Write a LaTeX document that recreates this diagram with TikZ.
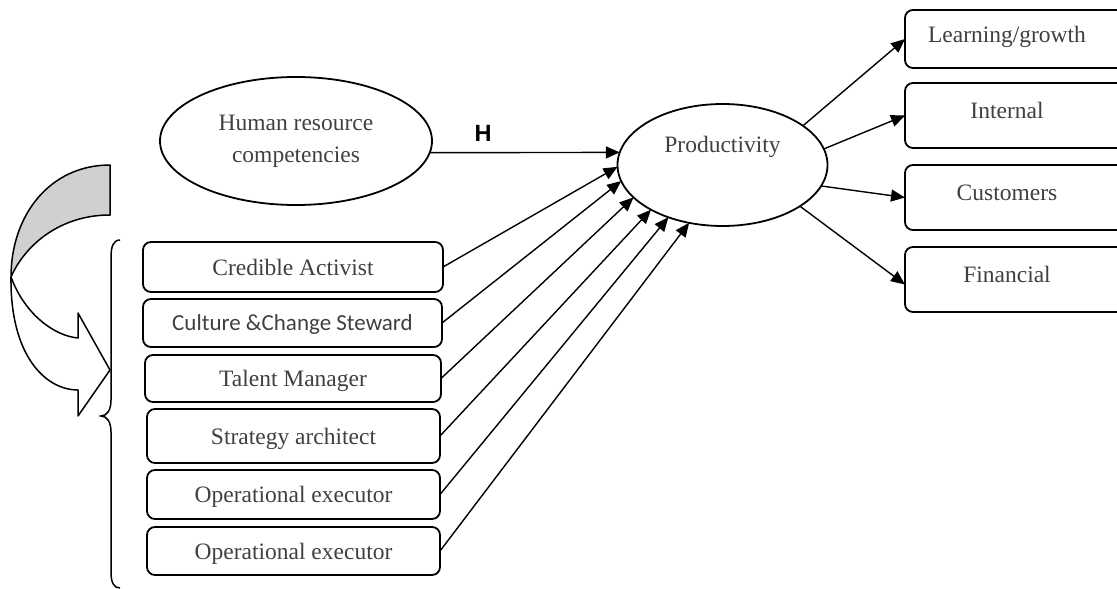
\documentclass[tikz,border=0pt]{standalone}
\usepackage{fontspec}
\setmainfont{Liberation Serif}
\newfontfamily\calfont{Carlito}
\newfontfamily\arifont{Liberation Sans}
\usetikzlibrary{shapes.geometric,arrows.meta}
\definecolor{txt}{RGB}{64,64,64}
\definecolor{bandgray}{RGB}{208,208,208}
\begin{document}
\begin{tikzpicture}[x=1pt,y=-1pt,
  lbox/.style={draw, line width=1.8pt, rounded corners=8pt, inner sep=0pt, outer sep=0pt,
    font=\fontsize{23.5}{28}\selectfont, text=txt, text height=16pt, text depth=0pt},
  rbox/.style={draw, line width=1.8pt, rounded corners=8pt, minimum width=220pt, inner sep=0pt, outer sep=0pt},
  rtxt/.style={font=\fontsize{23.5}{28}\selectfont, text=txt, text height=16pt, text depth=0pt,
    inner sep=0pt, xshift=-8pt, yshift=5pt},
  oval/.style={draw, ellipse, line width=1.8pt, inner sep=0pt, outer sep=0pt},
  arr/.style={line width=1.4pt, -{Triangle[length=14pt,width=12pt]}},
  band/.style={line width=1.5pt, line join=round},
]
\useasboundingbox (0,0) rectangle (1117,589);
\clip (0,0) rectangle (1117,589);

% curved arrow
\draw[band, fill=bandgray] (110,165) .. controls (50,165) and (11,215) .. (11,277)
   .. controls (25,245) and (60,215) .. (110,215) -- cycle;
\draw[band, fill=white] (11,277) .. controls (10,355) and (45,390) .. (78,390)
   -- (78,416) -- (110,370) -- (78,313) -- (78,338)
   .. controls (55,336) and (25,315) .. (11,277) -- cycle;

% brace
\draw[line width=1.5pt] (120,240) .. controls (113,240) and (111,247) .. (111,258) -- (111,400)
   .. controls (111,410) and (107,416) .. (101,416)
   .. controls (107,416) and (111,422) .. (111,432) -- (111,572)
   .. controls (111,583) and (114,588) .. (120,588);

% ellipses
\node[oval, minimum width=272pt, minimum height=128pt, align=center,
  font=\fontsize{23.5}{32}\selectfont, text=txt] (hr) at (296,141) {Human resource\\competencies};
\node[oval, minimum width=210pt, minimum height=122pt, font=\fontsize{23.5}{28}\selectfont,
  text=txt, text height=16pt, text depth=42pt] (prod) at (722.5,165) {Productivity};

\node[font=\arifont\bfseries\fontsize{23.5}{28}\selectfont, text height=17pt, text depth=0pt,
  inner sep=0pt] (hlab) at (483,133) {H};

% left boxes
\node[lbox, minimum width=300pt, minimum height=50pt] (cred) at (293,267) {Credible Activist};
\node[lbox, minimum width=299pt, minimum height=48pt, font=\calfont\fontsize{23}{28}\selectfont,
  text height=15pt] (cult) at (292.5,323) {Culture \&Change Steward};
\node[lbox, minimum width=296pt, minimum height=47pt] (tal) at (293,378.5) {Talent Manager};
\node[lbox, minimum width=293pt, minimum height=54pt] (strat) at (293.5,436) {Strategy architect};
\node[lbox, minimum width=293pt, minimum height=49pt] (op1) at (293.5,494.5) {Operational executor};
\node[lbox, minimum width=293pt, minimum height=48pt] (op2) at (293.5,551) {Operational executor};

% right boxes
\node[rbox, minimum height=58pt, label={[rtxt]center:Learning/growth}] (lg) at (1015,39) {};
\node[rbox, minimum height=65pt, label={[rtxt]center:Internal}] (int) at (1015,115.5) {};
\node[rbox, minimum height=65pt, label={[rtxt]center:Customers}] (cus) at (1015,197.5) {};
\node[rbox, minimum height=65pt, label={[rtxt]center:Financial}] (fin) at (1015,279.5) {};

% arrows
\draw[arr] (hr.-5.6) -- (prod.173.9);
\draw[arr] (cred.east) -- (prod.181);
\draw[arr] (cult.east) -- (prod.189);
\draw[arr] (tal.east) -- (prod.200);
\draw[arr] (strat.east) -- (prod.212);
\draw[arr] (op1.east) -- (prod.224.5);
\draw[arr] (op2.east) -- (prod.240.5);

\draw[arr] (prod.26) -- (lg.west);
\draw[arr] (prod.9.4) -- (int.west);
\draw[arr] (prod.-12.7) -- (cus.west);
\draw[arr] (prod.-28.3) -- ([yshift=-5pt]fin.west);
\end{tikzpicture}
\end{document}
